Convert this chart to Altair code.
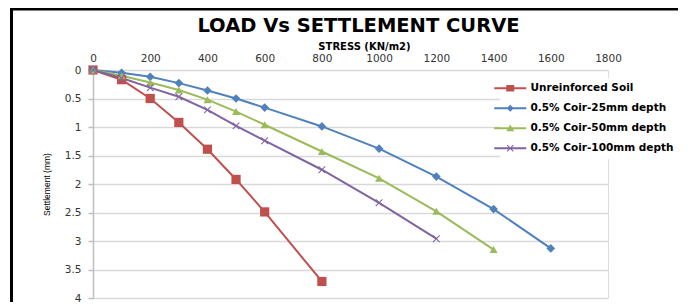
import altair as alt
import pandas as pd

series_names = ["Unreinforced Soil", "0.5% Coir-25mm depth", "0.5% Coir-50mm depth", "0.5% Coir-100mm depth"]
colors = ["#C0504D", "#4F81BD", "#9BBB59", "#8064A2"]

stress_unr = [0, 100, 200, 300, 400, 500, 600, 800]
settle_unr = [0, 0.17, 0.50, 0.92, 1.39, 1.92, 2.49, 3.71]

stress_25 = [0, 100, 200, 300, 400, 500, 600, 800, 1000, 1200, 1400, 1600]
settle_25 = [0, 0.05, 0.12, 0.23, 0.36, 0.50, 0.66, 0.99, 1.38, 1.87, 2.44, 3.13]

stress_50 = [0, 100, 200, 300, 400, 500, 600, 800, 1000, 1200, 1400]
settle_50 = [0, 0.10, 0.22, 0.35, 0.52, 0.73, 0.96, 1.43, 1.90, 2.48, 3.15]

stress_100 = [0, 100, 200, 300, 400, 500, 600, 800, 1000, 1200]
settle_100 = [0, 0.14, 0.31, 0.47, 0.70, 0.98, 1.24, 1.75, 2.33, 2.96]

x_ticks = [0, 200, 400, 600, 800, 1000, 1200, 1400, 1600, 1800]
y_ticks = [0, 0.5, 1, 1.5, 2, 2.5, 3, 3.5, 4]

rows = []
for name, xs, ys in [
    (series_names[0], stress_unr, settle_unr),
    (series_names[1], stress_25, settle_25),
    (series_names[2], stress_50, settle_50),
    (series_names[3], stress_100, settle_100),
]:
    for xv, yv in zip(xs, ys):
        rows.append({"series": name, "stress": xv, "settle": yv})
df = pd.DataFrame(rows)

# marker shapes on the data points
x_marker = "M-1,-0.8L-0.8,-1L1,0.8L0.8,1Z M-1,0.8L0.8,-1L1,-0.8L-0.8,1Z"
point_shapes = ["square", "diamond", "triangle-up", x_marker]

# legend symbols: line segment + marker
seg = "M-3.2,-0.2H3.2V0.2H-3.2Z "
legend_shapes = [
    seg + "M-0.8,-0.65H0.8V0.65H-0.8Z",
    seg + "M0,-0.7L0.7,0L0,0.7L-0.7,0Z",
    seg + "M0,-0.75L0.8,0.6L-0.8,0.6Z",
    seg + "M-0.7,-0.55L-0.55,-0.7L0.7,0.55L0.55,0.7Z M-0.7,0.55L0.55,-0.7L0.7,-0.55L-0.55,0.7Z",
]

x_scale = alt.Scale(domain=[0, 1800], nice=False)
y_scale = alt.Scale(domain=[0, 4], reverse=True, nice=False)

x_axis = alt.Axis(orient="top", values=x_ticks, format="d", grid=False, domain=False, ticks=False,
                  labelFlush=False, labelOverlap=False,
                  labelFont="DejaVu Sans", labelFontSize=10.5, labelColor="#333333",
                  labelPadding=7, title="STRESS (KN/m2)", titleFont="DejaVu Sans",
                  titleFontSize=10, titleFontWeight="bold", titleColor="black",
                  titleX=271, titleY=-24, titleBaseline="middle", titleAlign="center")
y_axis = alt.Axis(values=y_ticks, format="~g", grid=True, gridColor="#d9d9d9", gridWidth=1.5,
                  labelOverlap=False, labelFlush=False,
                  domain=True, domainColor="#bfbfbf", domainWidth=1.5,
                  ticks=True, tickSize=5, tickColor="#bfbfbf", tickWidth=1.5,
                  labelFont="DejaVu Sans", labelFontSize=10.5, labelColor="#333333",
                  labelPadding=7, title="Settlement (mm)",
                  titleFont="Liberation Sans", titleFontSize=8.5,
                  titleFontWeight="normal", titleColor="black",
                  titleX=-47, titleY=114, titleAngle=-90, titleBaseline="middle",
                  titleAlign="center")

x_enc = alt.X("stress:Q", scale=x_scale, axis=x_axis)
y_enc = alt.Y("settle:Q", scale=y_scale, axis=y_axis)

color_nolegend = alt.Color("series:N", scale=alt.Scale(domain=series_names, range=colors), legend=None)

lines = alt.Chart(df).mark_line(strokeWidth=2).encode(
    x=x_enc, y=y_enc, color=color_nolegend, order="stress:Q"
)

sizes = [85, 55, 95, 75]
points = alt.Chart(df).mark_point(filled=True, opacity=1).encode(
    x=x_enc, y=y_enc,
    color=color_nolegend,
    shape=alt.Shape("series:N", scale=alt.Scale(domain=series_names, range=point_shapes), legend=None),
    size=alt.Size("series:N", scale=alt.Scale(domain=series_names, range=sizes), legend=None),
)

legend_kw = dict(title=None, orient="none", legendX=407, legendY=8, fillColor="white",
                 padding=5, symbolSize=100, labelFont="DejaVu Sans", labelFontWeight="bold",
                 labelFontSize=10.5, labelColor="black", labelOffset=15, rowPadding=9,
                 symbolStrokeWidth=0)

legend_layer = alt.Chart(df).transform_filter("datum.stress < 0").mark_point(filled=True, opacity=1).encode(
    x=x_enc, y=y_enc,
    color=alt.Color("series:N", scale=alt.Scale(domain=series_names, range=colors),
                    legend=alt.Legend(**legend_kw)),
    shape=alt.Shape("series:N", scale=alt.Scale(domain=series_names, range=legend_shapes),
                    legend=alt.Legend(**legend_kw)),
)

frame_df = pd.DataFrame({"k": [0]})
frame_top = alt.Chart(frame_df).mark_rule(color="black", strokeWidth=3).encode(
    x=alt.value(-81.5), x2=alt.value(603), y=alt.value(-61)
)
frame_left = alt.Chart(frame_df).mark_rule(color="black", strokeWidth=3).encode(
    x=alt.value(-81.5), y=alt.value(-62.5), y2=alt.value(240)
)

chart = alt.layer(frame_top, frame_left, lines, points, legend_layer).resolve_scale(
    color="independent", shape="independent", size="independent"
).properties(
    width=515, height=228,
    title=alt.TitleParams("LOAD Vs SETTLEMENT CURVE", font="DejaVu Sans", fontSize=19.5,
                          fontWeight="bold", color="black", anchor="middle", dx=8, dy=30, offset=0),
    autosize=alt.AutoSizeParams(type="none"),
    padding={"left": 85, "top": 62, "right": 70, "bottom": 4},
).configure_view(strokeWidth=0, strokeOpacity=0).configure(background="white")

chart.save("out.html", embed_options={"renderer": "svg", "actions": False})
